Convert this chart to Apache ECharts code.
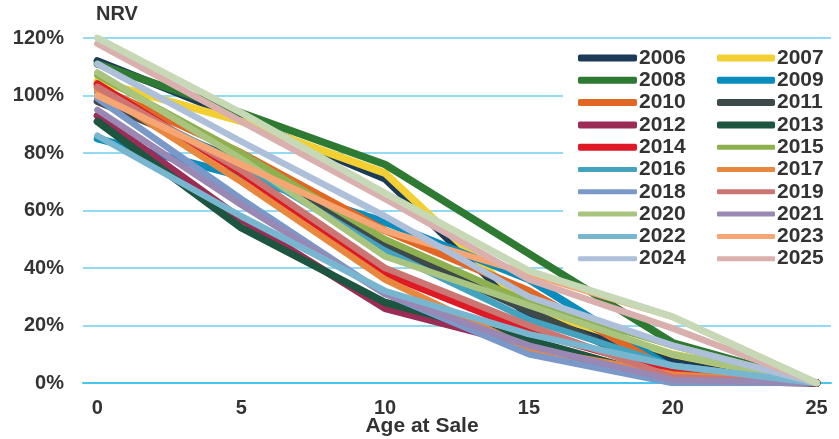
<!DOCTYPE html>
<html>
<head>
<meta charset="utf-8">
<style>
  html, body { margin: 0; padding: 0; background: #ffffff; }
  #chart { width: 839px; height: 439px; }
</style>
<script src="https://cdn.jsdelivr.net/npm/echarts@6/dist/echarts.min.js"></script>
</head>
<body>
<div id="chart"></div>
<script>
// Net realisable value (% of cost) by age at sale, one line per vintage year
const ages = [0, 5, 10, 15, 20, 25];
const ageTicks = [0, 5, 10, 15, 20, 25];

const y2006 = [112, 92, 71, 23, 8, 0];
const y2007 = [105, 91, 73, 26, 10, 0];
const y2008 = [111, 94, 76, 45, 14, 0];
const y2009 = [85, 72, 56, 36, 5, 0];
const y2010 = [103, 80, 53, 32, 4, 0];
const y2011 = [98, 77, 48, 25, 3, 0];
const y2012 = [93, 57, 26, 13, 1, 0];
const y2013 = [91, 54, 28, 15, 1, 0];
const y2014 = [104, 73, 38, 18, 4, 0];
const y2015 = [107, 80, 50, 28, 13, 0];
const y2016 = [101, 76, 46, 22, 6, 0];
const y2017 = [102, 70, 36, 12, 3, 0];
const y2018 = [99, 64, 31, 10, 0, 0];
const y2019 = [103, 74, 40, 20, 2, 0];
const y2020 = [108, 78, 44, 27, 10, 0];
const y2021 = [95, 62, 31, 13, 1, 0];
const y2022 = [86, 58, 32, 17, 6, 0];
const y2023 = [100, 76, 53, 38, 23, 0];
const y2024 = [111, 84, 58, 30, 13, 0];
const y2025 = [118, 91, 64, 36, 19, 0];
const yAll = [120, 94, 66, 39, 23, 0];

const years = ['2006','2007','2008','2009','2010','2011','2012','2013','2014','2015',
               '2016','2017','2018','2019','2020','2021','2022','2023','2024','2025'];
const values = [y2006, y2007, y2008, y2009, y2010, y2011, y2012, y2013, y2014, y2015,
                y2016, y2017, y2018, y2019, y2020, y2021, y2022, y2023, y2024, y2025];
const colors = ['#1b3b57','#f2d033','#2f7a33','#0a8cbd','#e06824','#3e4a4a','#9a2c55','#1e5540',
                '#dd1a26','#8fb04f','#43a3be','#e8883e','#7a99c9','#cc7674','#a8c47e','#9a88b4',
                '#78b6cf','#f6a674','#adbfd9','#dab0ae'];

const FONT = "'Liberation Sans', Arial, sans-serif";
const TEXT = '#333333';

const series = years.map((yr, i) => ({
  name: yr,
  type: 'line',
  color: colors[i],
  symbol: 'none',
  showSymbol: false,
  data: ages.map((a, j) => [a, values[i][j]]),
  lineStyle: { width: i < 9 ? 7.5 : 6.5, color: colors[i], cap: 'round', join: 'round' },
  emphasis: { disabled: true },
  silent: true
}));
series.push({
  name: 'All',
  type: 'line',
  color: '#c6d8b6',
  symbol: 'none',
  showSymbol: false,
  data: ages.map((a, j) => [a, yAll[j]]),
  lineStyle: { width: 7, color: '#c6d8b6', cap: 'round', join: 'round' },
  emphasis: { disabled: true },
  silent: true
});

const rowTop = 47, rowStep = 22.3;
function legendBlock(names, left, row, thick, iconW) {
  return {
    data: names,
    orient: 'vertical',
    left: left,
    top: rowTop + row * rowStep,
    padding: 0,
    itemGap: 0.3,
    itemWidth: iconW,
    itemHeight: thick ? 7 : 5,
    icon: 'roundRect',
    selectedMode: false,
    textStyle: { fontFamily: FONT, fontSize: 21, fontWeight: 'bold', color: TEXT, lineHeight: 22, padding: [0, 0, 0, -3] }
  };
}

const option = {
  animation: false,
  backgroundColor: '#ffffff',
  title: {
    text: 'NRV',
    left: 96,
    top: 4,
    padding: 0,
    textStyle: { fontFamily: FONT, fontSize: 20, fontWeight: 'bold', color: TEXT }
  },
  grid: { left: 83, right: 8, top: 38, bottom: 56, containLabel: false, outerBoundsMode: 'none' },
  graphic: [{
    type: 'rect',
    z: 1,
    shape: { x: 563, y: 43, width: 268, height: 232 },
    style: { fill: '#ffffff' },
    silent: true
  }],
  legend: [
    legendBlock(['2006','2008','2010','2012','2014'], 578, 0, true, 59),
    legendBlock(['2016','2018','2020','2022','2024'], 578, 5, false, 59),
    legendBlock(['2007','2009','2011','2013'], 717, 0, true, 58),
    legendBlock(['2015','2017','2019','2021','2023','2025'], 717, 4, false, 58)
  ],
  xAxis: {
    type: 'value',
    min: -0.5,
    max: 25.5,
    name: 'Age at Sale',
    nameLocation: 'middle',
    nameGap: 33,
    nameMoveOverlap: false,
    nameTextStyle: { fontFamily: FONT, fontSize: 21, fontWeight: 'bold', color: TEXT, padding: [0, 70, 0, 0] },
    axisLine: { show: true, onZero: false, lineStyle: { color: '#48c5ee', width: 2 } },
    axisTick: { show: false },
    splitLine: { show: false },
    axisLabel: {
      customValues: ageTicks,
      fontFamily: FONT, fontSize: 20, fontWeight: 'bold', color: TEXT, margin: 15
    }
  },
  yAxis: {
    type: 'value',
    min: 0,
    max: 120,
    interval: 20,
    axisLine: { show: false },
    axisTick: { show: false },
    splitLine: { show: true, lineStyle: { color: '#6fcfee', width: 1.5 } },
    axisLabel: {
      formatter: '{value}%',
      fontFamily: FONT, fontSize: 20, fontWeight: 'bold', color: TEXT, margin: 19
    }
  },
  series: series
};

const chart = echarts.init(document.getElementById('chart'), null, { renderer: 'canvas' });
chart.setOption(option);
</script>
</body>
</html>
